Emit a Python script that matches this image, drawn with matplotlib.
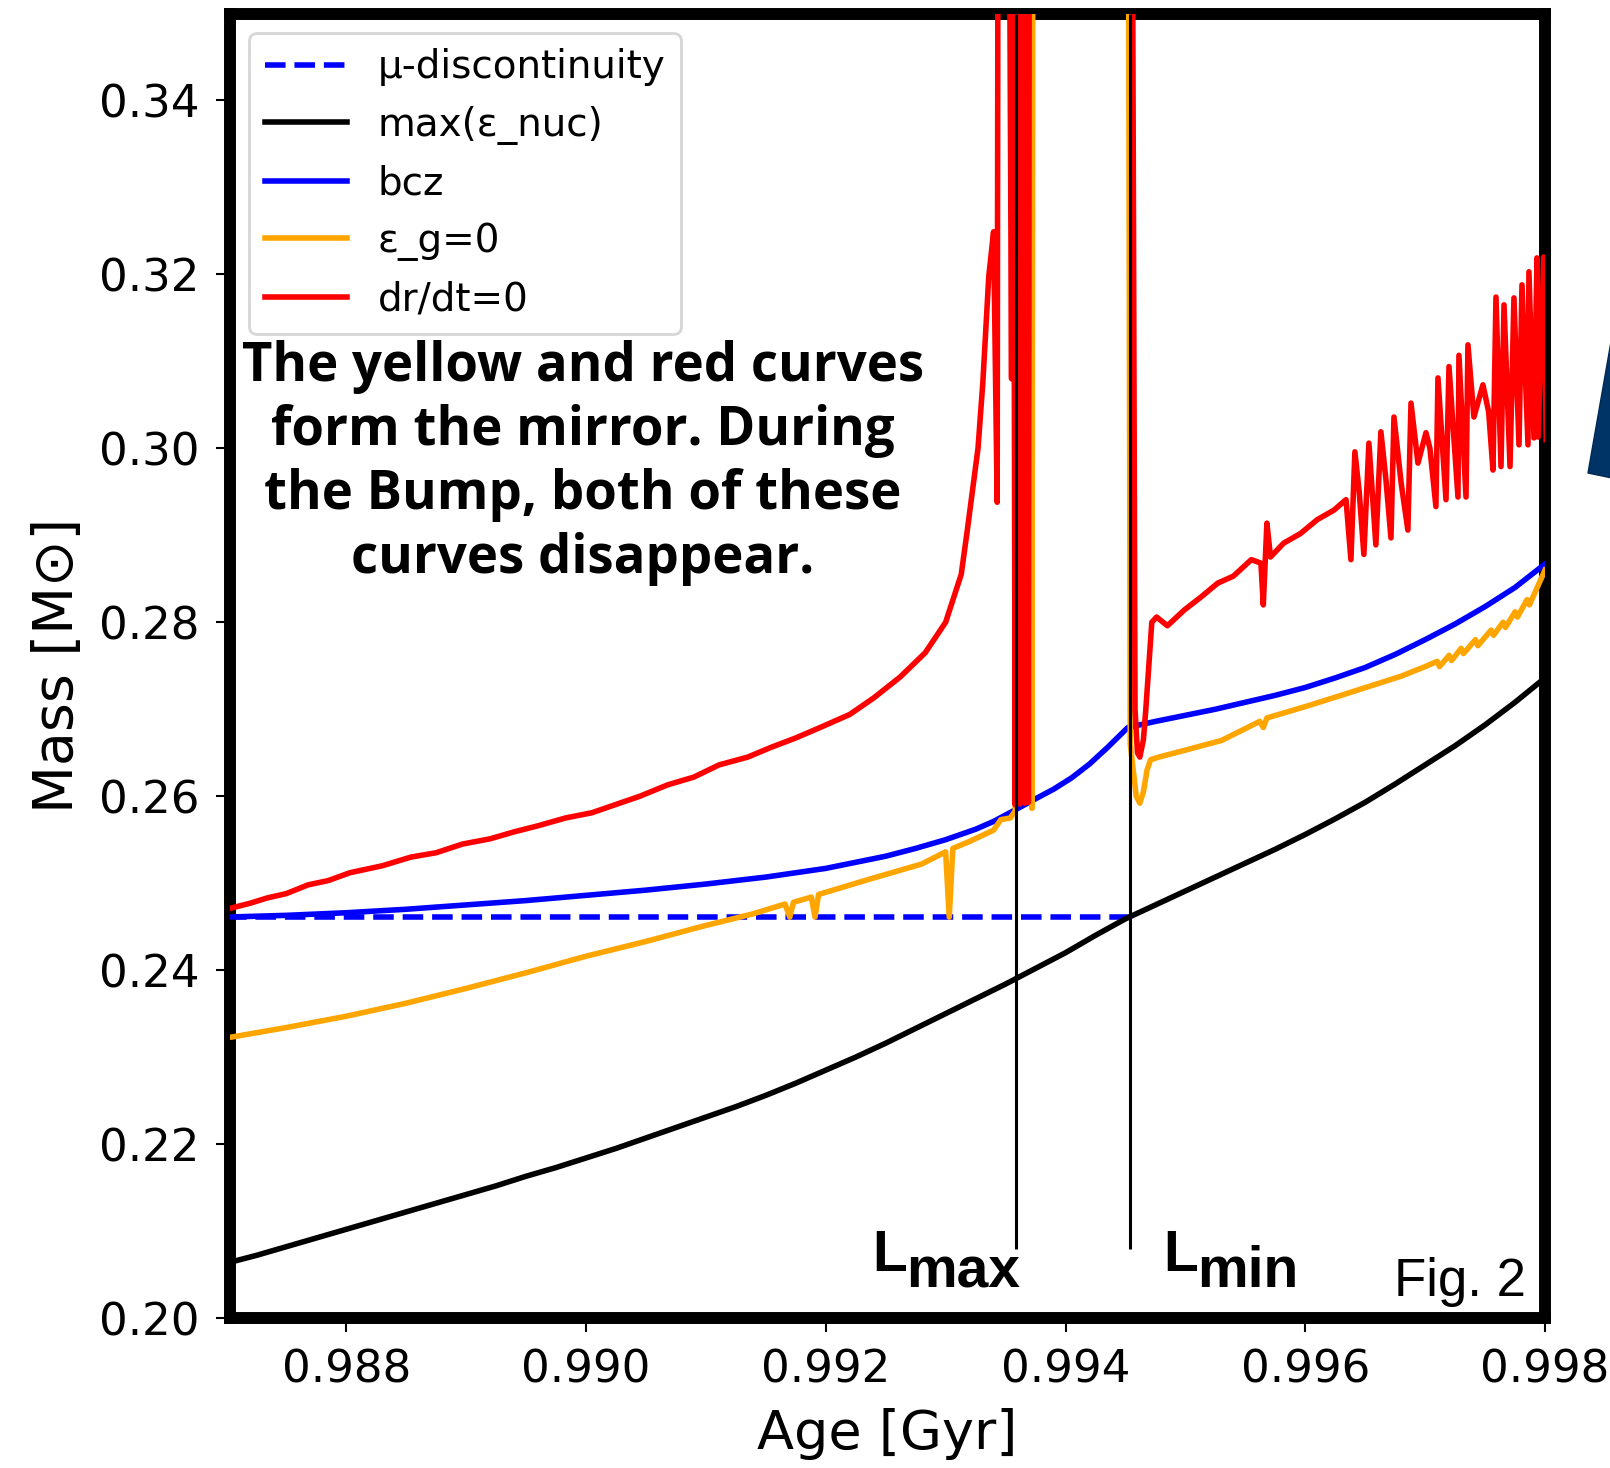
import numpy as np
import matplotlib
matplotlib.use("Agg")
import matplotlib.pyplot as plt
from matplotlib.patches import Polygon

plt.rcParams['font.family'] = ['DejaVu Sans']

nan = np.nan

# mu-discontinuity: stays put until the shell reaches it
mu_age = [0.98700, 0.99454]
mu_mass = [0.2461, 0.2461]

# location of max(eps_nuc)
nuc_age = [0.98700, 0.98725, 0.98750, 0.98775, 0.98800, 0.98825, 0.98850,
           0.98875, 0.98900, 0.98925, 0.98950, 0.98975, 0.99000, 0.99025,
           0.99050, 0.99075, 0.99100, 0.99125, 0.99150, 0.99175, 0.99200,
           0.99225, 0.99250, 0.99275, 0.99300, 0.99325, 0.99350, 0.99375,
           0.99400, 0.99425, 0.99450, 0.99475, 0.99500, 0.99525, 0.99550,
           0.99575, 0.99600, 0.99625, 0.99650, 0.99675, 0.99700, 0.99725,
           0.99750, 0.99775, 0.99800]
nuc_mass = [0.2063, 0.2072, 0.2082, 0.2092, 0.2102, 0.2112, 0.2122,
            0.2132, 0.2142, 0.2152, 0.2163, 0.2173, 0.2184, 0.2195,
            0.2207, 0.2219, 0.2231, 0.2243, 0.2256, 0.2270, 0.2285,
            0.2300, 0.2316, 0.2333, 0.2350, 0.2367, 0.2384, 0.2402,
            0.2420, 0.2440, 0.2459, 0.2475, 0.2491, 0.2507, 0.2523,
            0.2539, 0.2556, 0.2574, 0.2593, 0.2614, 0.2636, 0.2658,
            0.2682, 0.2708, 0.2736]

# base of the convective zone
bcz_age = [0.98700, 0.98750, 0.98800, 0.98850, 0.98900, 0.98950, 0.99000,
           0.99050, 0.99100, 0.99150, 0.99200, 0.99250, 0.99275, 0.99300,
           0.99325, 0.99340, 0.99359, 0.99375, 0.99390, 0.99405, 0.99420,
           0.99435, 0.99452, 0.99475, 0.99500, 0.99525, 0.99550, 0.99575,
           0.99600, 0.99625, 0.99650, 0.99675, 0.99700, 0.99725, 0.99750,
           0.99775, 0.99800]
bcz_mass = [0.2461, 0.2463, 0.2466, 0.2470, 0.2475, 0.2480, 0.2486,
            0.2492, 0.2499, 0.2507, 0.2517, 0.2531, 0.2540, 0.2550,
            0.2562, 0.2571, 0.2585, 0.2597, 0.2608, 0.2621, 0.2637,
            0.2656, 0.2679, 0.2686, 0.2693, 0.2700, 0.2708, 0.2716,
            0.2725, 0.2736, 0.2748, 0.2763, 0.2780, 0.2798, 0.2818,
            0.2840, 0.2867]

# eps_grav = 0 boundary, (age, mass) samples; nan breaks the curve
epsg_points = [
    (0.98700, 0.2322), (0.98750, 0.2334), (0.98800, 0.2347), (0.98850, 0.2362),
    (0.98900, 0.2379), (0.98950, 0.2397), (0.99000, 0.2416), (0.99050, 0.2433),
    (0.99096, 0.2450), (0.99140, 0.2465), (0.99166, 0.2476), (0.99170, 0.2461),
    (0.99173, 0.2478), (0.99188, 0.2484), (0.99191, 0.2461), (0.99194, 0.2487),
    (0.99235, 0.2504), (0.99280, 0.2522), (0.99300, 0.2536), (0.99303, 0.2461),
    (0.99306, 0.2540), (0.99320, 0.2548), (0.99340, 0.2561), (0.99346, 0.2573),
    (0.99354, 0.2575), (0.99358, 0.2583), (0.99360, 0.4000), (0.99371, 0.4000),
    (0.99372, 0.2586), (0.99373, 0.4000), (0.99374, 0.4000),
    (0.99450, nan),
    (0.99452, 0.4000), (0.99454, 0.2660), (0.99459, 0.2600), (0.99462, 0.2592),
    (0.99465, 0.2605), (0.99468, 0.2630), (0.99471, 0.2642), (0.99478, 0.2645),
    (0.99500, 0.2653), (0.99530, 0.2664), (0.99562, 0.2686), (0.99565, 0.2679),
    (0.99568, 0.2690), (0.99600, 0.2703), (0.99630, 0.2716), (0.99655, 0.2727),
    (0.99680, 0.2738), (0.99700, 0.2749), (0.99710, 0.2755), (0.99712, 0.2749),
    (0.99720, 0.2762), (0.99722, 0.2756), (0.99730, 0.2770), (0.99732, 0.2764),
    (0.99742, 0.2780), (0.99744, 0.2773), (0.99755, 0.2791), (0.99757, 0.2785),
    (0.99765, 0.2800), (0.99767, 0.2794), (0.99775, 0.2812), (0.99777, 0.2806),
    (0.99785, 0.2826), (0.99787, 0.2820), (0.99800, 0.2860),
]

# dr/dt = 0 boundary, (age, mass) samples; nan breaks the curve
drdt_points = [
    (0.98700, 0.2470), (0.98720, 0.2477), (0.98734, 0.2483), (0.98750, 0.2488),
    (0.98768, 0.2498), (0.98785, 0.2503), (0.98803, 0.2512), (0.98830, 0.2520),
    (0.98854, 0.2530), (0.98875, 0.2535), (0.98897, 0.2545), (0.98920, 0.2551),
    (0.98940, 0.2559), (0.98960, 0.2566), (0.98983, 0.2575), (0.99005, 0.2581),
    (0.99026, 0.2591), (0.99045, 0.2600), (0.99068, 0.2613), (0.99090, 0.2622),
    (0.99111, 0.2636), (0.99135, 0.2645), (0.99154, 0.2656), (0.99175, 0.2667),
    (0.99197, 0.2680), (0.99220, 0.2694), (0.99240, 0.2713), (0.99262, 0.2737),
    (0.99283, 0.2765), (0.99300, 0.2800), (0.99313, 0.2855), (0.99318, 0.2905),
    (0.99327, 0.3000), (0.99331, 0.3075), (0.99336, 0.3198), (0.99340, 0.3249),
    (0.99343, 0.2938), (0.99344, 0.4000), (0.99352, 0.4000), (0.99355, 0.3080),
    (0.99356, 0.4000), (0.99358, 0.2590), (0.99360, 0.4000), (0.99362, 0.2591),
    (0.99364, 0.4000), (0.99366, 0.2592), (0.99368, 0.4000), (0.99369, 0.2593),
    (0.99370, 0.4000),
    (0.99400, nan),
    (0.99455, 0.4000), (0.99458, 0.2700), (0.99460, 0.2650), (0.99462, 0.2645),
    (0.99465, 0.2665), (0.99467, 0.2700), (0.99470, 0.2760), (0.99472, 0.2800),
    (0.99476, 0.2806), (0.99485, 0.2796), (0.99499, 0.2814), (0.99513, 0.2829),
    (0.99527, 0.2845), (0.99540, 0.2853), (0.99555, 0.2872), (0.99563, 0.2868),
    (0.99565, 0.2820), (0.99568, 0.2914), (0.99571, 0.2875), (0.99582, 0.2891),
    (0.99596, 0.2902), (0.99610, 0.2918), (0.99624, 0.2929), (0.99634, 0.2941),
    (0.996381, 0.2872), (0.996414, 0.2996), (0.996450, 0.2950), (0.996489, 0.2878),
    (0.996531, 0.3006), (0.996589, 0.2889), (0.996631, 0.3019), (0.996673, 0.2964),
    (0.996715, 0.2897), (0.996740, 0.3036), (0.996800, 0.2960), (0.996856, 0.2906),
    (0.996882, 0.3052), (0.996940, 0.2983), (0.997007, 0.3018), (0.997040, 0.3000),
    (0.997090, 0.2933), (0.997107, 0.3081), (0.997174, 0.2941), (0.997199, 0.3094),
    (0.997274, 0.2944), (0.997282, 0.3107), (0.997341, 0.2944), (0.997357, 0.3119),
    (0.997407, 0.3036), (0.997482, 0.3073), (0.997530, 0.3042), (0.997566, 0.2975),
    (0.997591, 0.3174), (0.997633, 0.2979), (0.997658, 0.3165), (0.997708, 0.2979),
    (0.997741, 0.3173), (0.997783, 0.3004), (0.997808, 0.3188), (0.997858, 0.3004),
    (0.997866, 0.3203), (0.997908, 0.3012), (0.997933, 0.3219), (0.997942, 0.3013),
    (0.997990, 0.3220), (0.998010, 0.3010),
]

# luminosity maximum / minimum of the bump
bump_age = [0.99359, 0.99454]
bump_label = ["max", "min"]
bump_floor = 0.2079

x_ticks = [0.988, 0.990, 0.992, 0.994, 0.996, 0.998]
y_ticks = [0.20, 0.22, 0.24, 0.26, 0.28, 0.30, 0.32, 0.34]

epsg_age, epsg_mass = map(list, zip(*epsg_points))
drdt_age, drdt_mass = map(list, zip(*drdt_points))

W, H = 1610, 1468
fig = plt.figure(figsize=(W / 100, H / 100), dpi=100)
ax = fig.add_axes([230 / W, 1 - 1318 / H, 1315 / W, 1304.5 / H])


def px(x, y):
    return x / W, 1 - y / H


lw = 4.0
ax.plot(mu_age, mu_mass, color='blue', ls='--', lw=lw, label='μ-discontinuity', zorder=2)
ax.plot(nuc_age, nuc_mass, color='black', lw=lw, label='max(ε_nuc)', zorder=3)
ax.plot(bcz_age, bcz_mass, color='blue', lw=lw, label='bcz', zorder=3)
ax.plot(epsg_age, epsg_mass, color='orange', lw=lw, label='ε_g=0', zorder=4)
ax.plot(drdt_age, drdt_mass, color='red', lw=lw, label='dr/dt=0', zorder=5)

ax.vlines(bump_age, bump_floor, 0.35, color='black', lw=2.2, zorder=6)

ax.set_xlim(0.98703, 0.998)
ax.set_ylim(0.20, 0.35)
ax.set_xticks(x_ticks)
ax.set_xticklabels([f"{v:.3f}" for v in x_ticks])
ax.set_yticks(y_ticks)
ax.set_yticklabels([f"{v:.2f}" for v in y_ticks])
ax.tick_params(direction='out', length=10, width=1.5, pad=12, labelsize=32.5)
for s in ax.spines.values():
    s.set_linewidth(8.6)

ax.set_xlabel('Age [Gyr]', fontsize=39, labelpad=12)
ax.set_ylabel('Mass [M⊙]', fontsize=40, labelpad=10)

leg = ax.legend(loc='upper left', fontsize=28, borderaxespad=0.5,
                handlelength=2.1)
leg.get_frame().set_linewidth(2.0)

note = ("The yellow and red curves\nform the mirror. During\n"
        "the Bump, both of these\ncurves disappear.")
fig.text(*px(583, 463), note, ha='center', va='center', fontsize=38,
         fontweight='bold', family=['Open Sans', 'Lato', 'DejaVu Sans'],
         linespacing=1.25, multialignment='center', zorder=10)

label_font = ['Liberation Sans', 'DejaVu Sans']
for (lx, sx), sub in zip([(872, 906), (1163, 1197)], bump_label):
    fig.text(*px(lx, 1271), "L", fontsize=41, fontweight='bold', family=label_font,
             ha='left', va='baseline')
    fig.text(*px(sx, 1287), sub, fontsize=41, fontweight='bold', family=label_font,
             ha='left', va='baseline')

fig.text(*px(1394, 1296), "Fig. 2", fontsize=38, family=label_font,
         ha='left', va='baseline')

tri = [px(1588, 473), px(1612, 336), px(1612, 478)]
fig.patches.append(Polygon(tri, closed=True, transform=fig.transFigure,
                           facecolor='#003366', edgecolor='#002a55', lw=1.0))

fig.savefig('out.png', dpi=100)
